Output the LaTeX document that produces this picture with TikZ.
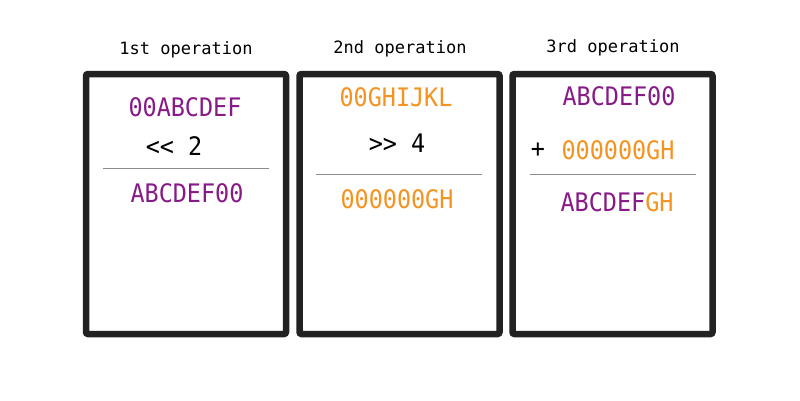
\documentclass[tikz,border=0pt]{standalone}
\usepackage{fontspec}
\setmonofont{DejaVu Sans Mono}
\newfontfamily\valfont[FakeStretch=0.92]{DejaVu Sans Mono}
\usepackage{tikz}
\usetikzlibrary{positioning,calc}
\definecolor{vpurple}{RGB}{136,26,136}
\definecolor{vorange}{RGB}{246,146,32}
\definecolor{vframe}{RGB}{34,34,34}
\tikzset{
  every node/.style={align=center,inner sep=0pt},
  opbox/.style={draw=vframe,line width=6.5pt,rounded corners=2pt,minimum width=200pt,minimum height=260pt},
  optitle/.style={font=\ttfamily\fontsize{17}{20}\selectfont,text=black},
  val/.style={font=\valfont\fontsize{25.5}{30}\selectfont},
  sep/.style={draw=gray!90,line width=1pt},
}

\begin{document}
\begin{tikzpicture}[x=1pt,y=-1pt]
  \useasboundingbox (0,0) rectangle (800,400);
  % frames
  \node[opbox] (box1) at (186,204) {};
  \node[opbox] (box2) at (399.5,204) {};
  \node[opbox] (box3) at (612.5,204) {};
  \node[optitle] (t1) at (186,50) {1st operation};
  \node[optitle] (t2) at (400,49) {2nd operation};
  \node[optitle] (t3) at (613,48) {3rd operation};
  % 1st
  \node[val,text=vpurple] (a1) at (185,107) {00ABCDEF};
  \node[val] (op1) at (174,146) {<< 2};
  \node[val,text=vpurple] (r1) at (187,193) {ABCDEF00};
  \coordinate (l1a) at (103,168);
  \coordinate (l1b) at (269,168);
  \draw[sep] (l1a) -- (l1b);
  % 2nd
  \node[val,text=vorange] (a2) at (396,97) {00GHIJKL};
  \node[val] (op2) at (397,143) {>> 4};
  \node[val,text=vorange] (r2) at (397,199) {000000GH};
  \coordinate (l2a) at (316,174);
  \coordinate (l2b) at (482,174);
  \draw[sep] (l2a) -- (l2b);
  % 3rd
  \node[val,text=vpurple] (a3) at (619,96) {ABCDEF00};
  \node[val] (op3) at (538,150) {+};
  \node[val,text=vorange] (b3) at (618,150) {000000GH};
  \node[val] (r3) at (617,202) {\textcolor{vpurple}{ABCDEF}\textcolor{vorange}{GH}};
  \coordinate (l3a) at (530,174);
  \coordinate (l3b) at (696,174);
  \draw[sep] (l3a) -- (l3b);
\end{tikzpicture}
\end{document}
